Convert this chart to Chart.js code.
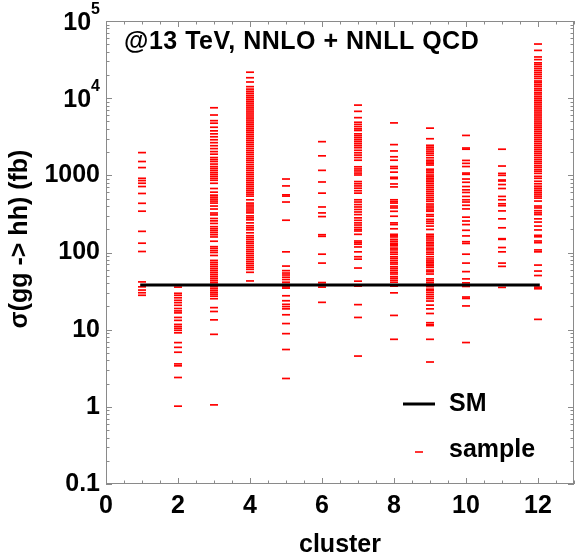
<!DOCTYPE html>
<html>
<head>
<meta charset="utf-8">
<script src="https://cdn.jsdelivr.net/npm/chart.js@4"></script>
<style>
  body { margin: 0; background: #fff; }
  canvas { display: block; }
</style>
</head>
<body>
<canvas id="grafico" width="581" height="559"></canvas>
<script>
// tick values and labels ("10^n" ones are drawn with a real superscript)
const xTicks = [0, 2, 4, 6, 8, 10, 12];
const yTicks = [0.1, 1, 10, 100, 1000, 10000, 100000];
const yTickLabels = ["0.1", "1", "10", "100", "1000", "10^4", "10^5"];

// SM reference value (fb) and extent of the line
const smValue = 37.9;
const smRange = [0.95, 12.05];

// sample cross sections (fb) per cluster
const clusterIds = [1, 2, 3, 4, 5, 6, 7, 8, 9, 10, 11, 12];
const cluster1 = [1970, 1510, 1260, 915, 855, 790, 716, 582, 434, 343, 188, 132, 103, 41.6, 35.9, 32.6, 30.1, 27.9];
const cluster2 = [35.6, 29.6, 27.9, 25.9, 24.0, 22.4, 20.7, 18.8, 17.5, 16.5, 14.4, 13.2, 11.7, 11.0, 10.4, 9.8, 9.1, 6.8, 5.9, 5.1, 3.6, 3.4, 2.4, 1.02];
const cluster3 = [7510, 6050, 5110, 4740, 4200, 3770, 3450, 3160, 2890, 2650, 2420, 2220, 2030, 1880, 1700, 1600, 1510, 1400, 1300, 1230, 1160, 1090, 1030, 971, 915, 863, 789, 675, 605, 554, 522, 492, 464, 437, 400, 366, 325, 307, 276, 257, 238, 216, 203, 192, 181, 170, 159, 140, 119, 113, 106, 100, 91.5, 79, 74.4, 70.2, 66.1, 62.3, 58.8, 55.4, 52.2, 49.2, 46.4, 43.7, 41.2, 38.8, 36.6, 34.5, 32.5, 30.6, 28.9, 27.2, 25.2, 19.3, 17.2, 13.4, 8.7, 1.06];
const cluster4 = [21700, 18400, 16200, 14100, 13100, 12300, 11600, 10900, 10300, 9710, 9150, 8630, 8130, 7660, 7230, 6810, 6420, 6050, 5700, 5380, 5070, 4780, 4510, 4250, 4000, 3770, 3560, 3350, 3160, 2980, 2810, 2650, 2500, 2360, 2220, 2090, 1970, 1860, 1750, 1650, 1560, 1470, 1380, 1300, 1230, 1160, 1090, 1030, 971, 915, 863, 813, 767, 723, 681, 642, 605, 571, 538, 482, 437, 412, 389, 366, 345, 326, 298, 281, 265, 242, 222, 209, 197, 180, 165, 156, 147, 138, 131, 123, 116, 109, 103, 97.1, 91.5, 86.3, 81.3, 76.6, 72.3, 68.1, 64.2, 60.5, 55.4, 42.8, 37.8];
const cluster5 = [896, 729, 559, 538, 451, 262, 102, 66.7, 58.2, 54.2, 51.1, 47.8, 44.6, 41.2, 38.5, 35.8, 34.5, 27.5, 23.7, 21.3, 19.9, 18.6, 15.6, 12.0, 8.88, 5.53, 2.33];
const cluster6 = [2730, 1790, 1160, 820, 588, 389, 326, 292, 170, 162, 95.1, 72.9, 40.8, 38.5, 35.6, 22.6];
const cluster7 = [8130, 6750, 5590, 4870, 4570, 4280, 4000, 3810, 3450, 3260, 3070, 2890, 2730, 2570, 2420, 2280, 2110, 1960, 1830, 1700, 1570, 1290, 1210, 1140, 1070, 1010, 830, 778, 729, 681, 632, 588, 482, 451, 418, 389, 361, 335, 310, 281, 261, 242, 227, 211, 199, 190, 172, 141, 134, 128, 118, 102, 88.1, 82.0, 62.9, 42.5, 36.7, 21.1, 14.4, 4.55];
const cluster8 = [4780, 2500, 2070, 1740, 1570, 1300, 1230, 1100, 943, 907, 773, 708, 482, 456, 437, 400, 378, 342, 295, 242, 230, 203, 172, 165, 159, 148, 140, 132, 127, 122, 114, 108, 101, 95.1, 88.1, 83.8, 78.9, 74.4, 70.8, 65.5, 62.3, 58.8, 55.4, 52.6, 48.7, 46.4, 43.7, 41.2, 36.7, 30.0, 15.3, 7.50];
const cluster9 = [4090, 2980, 2450, 2320, 2190, 2060, 1940, 1820, 1690, 1570, 1490, 1430, 1360, 1200, 1140, 1080, 1010, 962, 915, 870, 825, 778, 733, 691, 651, 614, 579, 546, 514, 485, 460, 425, 400, 378, 356, 342, 310, 295, 269, 254, 239, 220, 199, 172, 163, 154, 145, 136, 129, 122, 114, 108, 101, 95.1, 88.1, 82.5, 77.8, 74.4, 70.8, 67.5, 64.2, 59.2, 56.3, 52.6, 45.5, 43.1, 40.6, 38.3, 36.1, 33.5, 32.1, 30.3, 28.5, 26.8, 25.3, 23.5, 20.8, 18.6, 16.2, 12.3, 11.6, 11.3, 7.50, 3.81];
const cluster10 = [3290, 2260, 2180, 1560, 1430, 1300, 1070, 1030, 896, 813, 716, 648, 600, 533, 482, 451, 409, 367, 287, 256, 230, 194, 164, 138, 131, 95.1, 72.9, 56.5, 45.5, 40.4, 36.3, 26.5, 25.4, 20.3, 6.81];
const cluster11 = [2180, 1320, 1060, 1000, 870, 845, 760, 675, 533, 482, 428, 404, 346, 273, 209, 151, 148, 116, 102, 72.9, 66.1, 35.3];
const cluster12 = [50300, 41600, 34200, 31600, 28700, 27300, 25700, 24200, 22800, 21500, 20300, 19100, 18000, 16700, 16000, 15100, 14300, 13400, 12700, 11900, 11300, 10600, 10000, 9430, 8880, 8380, 7890, 7440, 7010, 6610, 6230, 5880, 5540, 5220, 4920, 4640, 4370, 4130, 3890, 3670, 3460, 3260, 3070, 2890, 2730, 2570, 2420, 2280, 2150, 2030, 1920, 1810, 1700, 1600, 1510, 1430, 1340, 1270, 1190, 1130, 1060, 971, 915, 838, 778, 723, 681, 642, 605, 571, 538, 507, 464, 400, 378, 348, 326, 310, 273, 248, 220, 196, 167, 160, 141, 134, 108, 102, 68.7, 57.5, 50.3, 35.6, 33.9, 13.6];

const clusterValues = [cluster1, cluster2, cluster3, cluster4, cluster5, cluster6, cluster7, cluster8, cluster9, cluster10, cluster11, cluster12];
const samplePoints = clusterValues.flatMap((vals, i) => vals.map((v) => ({ x: clusterIds[i], y: v })));

const fuente = '"Liberation Sans", Arial, sans-serif';
const colorMarco = "#8a8a8a";

// frame with inward ticks on all four sides, plus the texts Chart.js can't place
const marcoPlugin = {
  id: "marco",
  afterDatasetsDraw(chart) {
    const { ctx, chartArea: a, scales } = chart;
    const xs = scales.x;
    const ys = scales.y;
    ctx.save();
    ctx.strokeStyle = colorMarco;
    ctx.lineWidth = 1;
    ctx.strokeRect(a.left + 0.5, a.top + 0.5, a.right - a.left - 1, a.bottom - a.top - 1);
    ctx.beginPath();
    for (let v = xs.min; v <= xs.max; v += 0.5) {
      const px = Math.round(xs.getPixelForValue(v)) + 0.5;
      const len = v % 2 === 0 ? 6 : 3.5;
      ctx.moveTo(px, a.bottom);
      ctx.lineTo(px, a.bottom - len);
      ctx.moveTo(px, a.top);
      ctx.lineTo(px, a.top + len);
    }
    for (let e = -1; e <= 4; e++) {
      for (let m = 1; m <= 9; m++) {
        const py = Math.round(ys.getPixelForValue(m * Math.pow(10, e))) + 0.5;
        const len = m === 1 ? 6 : 3.5;
        ctx.moveTo(a.left, py);
        ctx.lineTo(a.left + len, py);
        ctx.moveTo(a.right, py);
        ctx.lineTo(a.right - len, py);
      }
    }
    ctx.stroke();
    ctx.restore();
  },
  afterDraw(chart) {
    const { ctx, scales } = chart;
    ctx.save();
    ctx.fillStyle = "#000";

    // 10^n tick labels
    yTicks.forEach((v, i) => {
      const partes = yTickLabels[i].split("^");
      if (partes.length < 2) return;
      const py = scales.y.getPixelForValue(v);
      ctx.font = "bold 16px " + fuente;
      ctx.textAlign = "right";
      ctx.textBaseline = "alphabetic";
      ctx.fillText(partes[1], 100, py - 7);
      const anchoExp = ctx.measureText(partes[1]).width;
      ctx.font = "bold 25px " + fuente;
      ctx.textBaseline = "middle";
      ctx.fillText(partes[0], 100 - anchoExp, py + 2);
    });

    ctx.font = "bold 25px " + fuente;
    ctx.textAlign = "left";
    ctx.textBaseline = "alphabetic";
    ctx.letterSpacing = "0.5px";
    ctx.fillText("@13 TeV, NNLO + NNLL QCD", 124, 49);
    ctx.letterSpacing = "0px";

    // y axis label
    ctx.save();
    ctx.translate(27, 239);
    ctx.rotate(-Math.PI / 2);
    ctx.textAlign = "center";
    ctx.fillText("\u03c3(gg -> hh) (fb)", 0, 0);
    ctx.restore();

    // legend
    ctx.strokeStyle = "#000";
    ctx.lineWidth = 3;
    ctx.beginPath();
    ctx.moveTo(403, 404);
    ctx.lineTo(435, 404);
    ctx.stroke();
    ctx.strokeStyle = "#ff0000";
    ctx.lineWidth = 1.6;
    ctx.beginPath();
    ctx.moveTo(415, 452);
    ctx.lineTo(423, 452);
    ctx.stroke();
    ctx.fillText("SM", 449, 411);
    ctx.fillText("sample", 449, 457);
    ctx.restore();
  },
};

const contextoGrafico = document.getElementById("grafico").getContext("2d");

new Chart(contextoGrafico, {
  type: "scatter",
  data: {
    datasets: [
      {
        label: "SM",
        type: "line",
        data: smRange.map((x) => ({ x, y: smValue })),
        borderColor: "#000",
        borderWidth: 3,
        pointRadius: 0,
        order: 0,
      },
      {
        label: "sample",
        data: samplePoints,
        pointStyle: "line",
        pointRadius: 4,
        borderColor: "#ff0000",
        backgroundColor: "#ff0000",
        borderWidth: 1.7,
        order: 1,
      },
    ],
  },
  options: {
    responsive: false,
    animation: false,
    layout: { padding: { top: 16, right: 7, left: 0, bottom: 0 } },
    plugins: {
      legend: { display: false },
      tooltip: { enabled: false },
    },
    scales: {
      x: {
        type: "linear",
        min: 0,
        max: 13,
        afterBuildTicks: (scale) => {
          scale.ticks = xTicks.map((v) => ({ value: v }));
        },
        afterFit: (scale) => {
          scale.height = 75;
        },
        grid: { display: false, drawTicks: false },
        border: { display: false },
        ticks: {
          padding: 7,
          color: "#000",
          maxRotation: 0,
          autoSkip: false,
          font: { family: fuente, size: 25, weight: "bold" },
        },
        title: {
          display: true,
          text: "cluster",
          color: "#000",
          padding: 0,
          font: { family: fuente, size: 25, weight: "bold", lineHeight: 1.1 },
        },
      },
      y: {
        type: "logarithmic",
        min: 0.1,
        max: 100000,
        afterBuildTicks: (scale) => {
          scale.ticks = yTicks.map((v) => ({ value: v }));
        },
        afterFit: (scale) => {
          scale.width = 106;
        },
        grid: { display: false, drawTicks: false },
        border: { display: false },
        ticks: {
          padding: 6,
          color: "#000",
          autoSkip: false,
          font: { family: fuente, size: 25, weight: "bold" },
          callback: (value) => {
            const i = yTicks.indexOf(value);
            if (i < 0 || yTickLabels[i].includes("^")) return "";
            return yTickLabels[i];
          },
        },
      },
    },
  },
  plugins: [marcoPlugin],
});
</script>
</body>
</html>
